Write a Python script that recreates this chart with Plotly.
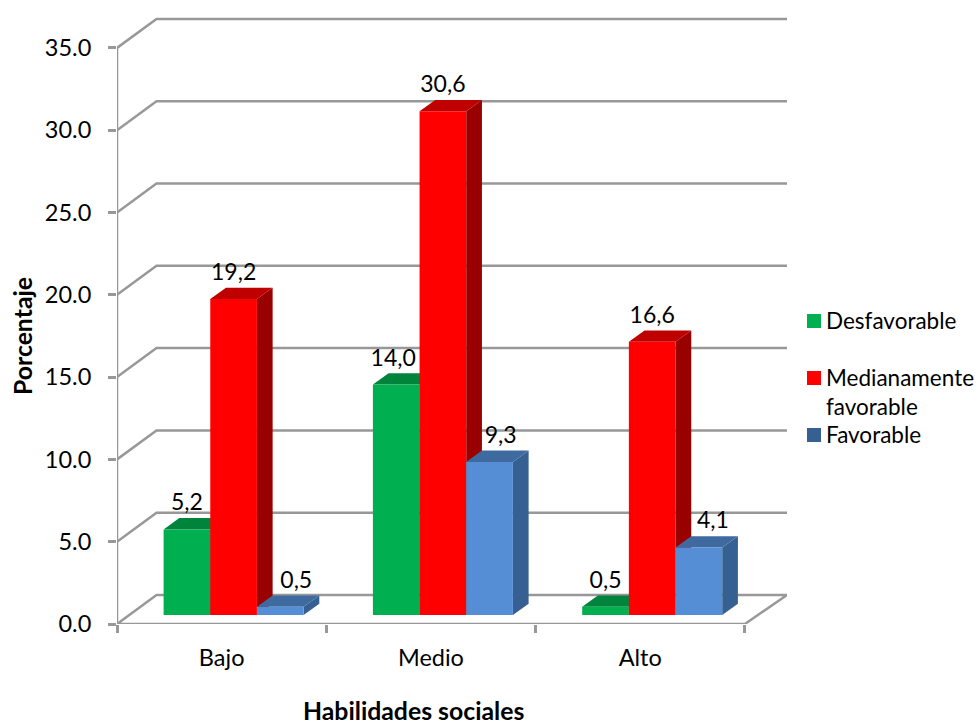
import plotly.graph_objects as go

# Chart data
categories = ["Bajo", "Medio", "Alto"]
desfavorable = [5.2, 14.0, 0.5]
medianamente = [19.2, 30.6, 16.6]
favorable = [0.5, 9.3, 4.1]
value_ticks = [0, 5, 10, 15, 20, 25, 30, 35]

FONT = "Lato"
GRID = "#989898"

# Plot area in page pixels; the 3-D depth is expressed in axis units through these scales
LEFT, RIGHT, TOP, BOTTOM = 117, 787, 10, 624
PX_X = 209.3
PX_Y = 16.46
X_END = (RIGHT - LEFT) / PX_X
WALL_DX, WALL_DY = 39.5 / PX_X, 29 / PX_Y
BAR_DX, BAR_DY = 15.7 / PX_X, 11.3 / PX_Y
FLOOR = 9 / PX_Y
BAR_START = 46.6 / PX_X
BAR_W = 46.67 / PX_X
LABEL_GAP = 13.5 / PX_Y

series = [
    dict(name="Desfavorable", values=desfavorable, front="#00B050", top="#00843C", side="#00693A",
         swatch="#00B050", nudge=[0, -3, 0], legend_mid=321),
    dict(name="Medianamente<br>favorable", values=medianamente, front="#FF0000", top="#BF0000", side="#990000",
         swatch="#FF0000", nudge=[0, 0, 0], legend_mid=378),
    dict(name="Favorable", values=favorable, front="#558ED5", top="#3F6AA0", side="#376092",
         swatch="#376092", nudge=[16, 11, 14], legend_mid=435),
]

fig = go.Figure()


def polygon(xs, ys, color):
    fig.add_trace(go.Scatter(
        x=xs + xs[:1], y=ys + ys[:1], mode="lines", fill="toself", fillcolor=color,
        line=dict(color=color, width=0), showlegend=False, hoverinfo="skip", cliponaxis=False,
    ))


def paper_x(px):
    return (px - LEFT) / (RIGHT - LEFT)


def paper_y(px):
    return (BOTTOM - px) / (BOTTOM - TOP)


# Gridlines running across the side wall and the back wall
grid_x, grid_y = [], []
for v in value_ticks[1:]:
    grid_x += [0, WALL_DX, X_END, None]
    grid_y += [v, v + WALL_DY, v + WALL_DY, None]
fig.add_trace(go.Scatter(x=grid_x, y=grid_y, mode="lines", line=dict(color=GRID, width=2.5),
                         showlegend=False, hoverinfo="skip", cliponaxis=False))

# Floor outline and the vertical value axis
fig.add_trace(go.Scatter(
    x=[0, 3, X_END, WALL_DX, 0], y=[0, 0, WALL_DY, WALL_DY, 0], mode="lines",
    line=dict(color=GRID, width=2.5), showlegend=False, hoverinfo="skip", cliponaxis=False))
fig.add_trace(go.Scatter(x=[0, 0], y=[0, value_ticks[-1]], mode="lines",
                         line=dict(color=GRID, width=2.5), showlegend=False, hoverinfo="skip", cliponaxis=False))

# Extruded bars, painted left to right so each front face covers its neighbour's side
for c in range(len(categories)):
    for s, info in enumerate(series):
        v = info["values"][c]
        x0 = c + BAR_START + s * BAR_W
        x1 = x0 + BAR_W
        y0 = FLOOR
        y1 = FLOOR + v
        polygon([x1, x1 + BAR_DX, x1 + BAR_DX, x1], [y0, y0 + BAR_DY, y1 + BAR_DY, y1], info["side"])
        polygon([x0, x1, x1 + BAR_DX, x0 + BAR_DX], [y1, y1, y1 + BAR_DY, y1 + BAR_DY], info["top"])
        polygon([x0, x1, x1, x0], [y0, y0, y1, y1], info["front"])

# Value labels with decimal commas
for s, info in enumerate(series):
    fig.add_trace(go.Scatter(
        x=[c + BAR_START + (s + 0.5) * BAR_W + info["nudge"][c] / PX_X for c in range(len(categories))],
        y=[v + FLOOR + BAR_DY + LABEL_GAP for v in info["values"]],
        text=[f"{v:.1f}".replace(".", ",") for v in info["values"]],
        mode="text", textposition="middle center",
        textfont=dict(family=FONT, size=23, color="black"),
        showlegend=False, hoverinfo="skip", cliponaxis=False,
    ))

# Key on the right: swatches and names with uneven vertical spacing
shapes, annotations = [], []
for info in series:
    mid = info["legend_mid"]
    shapes.append(dict(type="rect", xref="paper", yref="paper", line_width=0, fillcolor=info["swatch"],
                       x0=paper_x(807), x1=paper_x(821), y0=paper_y(mid + 7), y1=paper_y(mid - 7)))
    annotations.append(dict(text=info["name"], xref="paper", yref="paper", showarrow=False, align="left",
                            x=paper_x(824), xanchor="left", y=paper_y(mid - 16), yanchor="top",
                            font=dict(family=FONT, size=22.5, color="black")))

# Axis titles
title_font = dict(family=FONT, size=24.8, color="black", weight="bold")
annotations.append(dict(text="Habilidades sociales", xref="paper", yref="paper", showarrow=False,
                        x=paper_x(413), xanchor="center", y=paper_y(710), yanchor="middle", font=title_font))
annotations.append(dict(text="Porcentaje", xref="paper", yref="paper", showarrow=False, textangle=-90,
                        x=paper_x(22), xanchor="center", y=paper_y(336), yanchor="middle", font=title_font))

fig.update_layout(
    width=979, height=725, autosize=False,
    margin=dict(l=LEFT, r=979 - RIGHT, t=TOP, b=725 - BOTTOM, pad=0),
    paper_bgcolor="white", plot_bgcolor="white",
    showlegend=False,
    shapes=shapes, annotations=annotations,
    xaxis=dict(
        range=[0, X_END], tickmode="array", tickvals=[0.5, 1.5, 2.5], ticktext=categories,
        ticks="", showgrid=False, zeroline=False, showline=False, automargin=False,
        ticklabelstandoff=17,
        tickfont=dict(family=FONT, size=23.5, color="black"),
        minor=dict(tickmode="array", tickvals=[0, 1, 2, 3], ticks="outside", ticklen=8, tickwidth=2.5,
                   tickcolor=GRID, showgrid=False),
    ),
    yaxis=dict(
        range=[0, (BOTTOM - TOP) / PX_Y], tickmode="array", tickvals=value_ticks, tickformat=".1f",
        ticks="outside", ticklen=8, tickwidth=2.5, tickcolor=GRID,
        showgrid=False, zeroline=False, showline=False, automargin=False,
        ticklabelstandoff=12,
        tickfont=dict(family=FONT, size=23.5, color="black"),
    ),
)

fig.write_html("out.html")
